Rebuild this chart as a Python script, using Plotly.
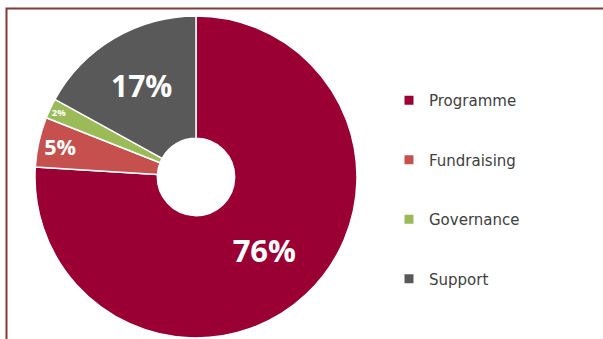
import plotly.graph_objects as go

categories = ["Programme", "Fundraising", "Governance", "Support"]
values = [76, 5, 2, 17]
colors = ["#9A0033", "#C6504E", "#9BBB59", "#595959"]
label_sizes = [31, 24, 15, 30]

fig = go.Figure()

fig.add_trace(go.Pie(
    labels=categories,
    values=values,
    sort=False,
    direction="clockwise",
    rotation=0,
    hole=0.24,
    marker=dict(colors=colors, line=dict(color="white", width=1.5)),
    textinfo="percent",
    texttemplate="%{percent:.0%}",
    textposition="inside",
    insidetextorientation="horizontal",
    textfont=dict(family="Open Sans", color="white", size=label_sizes, weight="bold"),
    domain=dict(x=[35 / 603, 357 / 603], y=[1 / 339, 323 / 339]),
    showlegend=False,
    hoverinfo="label+percent",
))

# legend entries (one per category)
for name, col in zip(categories, colors):
    fig.add_trace(go.Scatter(
        x=[None], y=[None], mode="markers", name=name,
        legendgroup=name,
        marker=dict(symbol="square", size=9, color=col),
    ))

fig.update_layout(
    width=603, height=339,
    margin=dict(l=0, r=0, t=0, b=0),
    paper_bgcolor="white",
    plot_bgcolor="white",
    xaxis=dict(visible=False),
    yaxis=dict(visible=False),
    legend=dict(
        x=389 / 603, y=1 - 84 / 339, xanchor="left", yanchor="top",
        font=dict(family="DejaVu Sans", size=15, color="#404040"),
        tracegroupgap=37,
        itemwidth=30,
        bgcolor="rgba(0,0,0,0)",
    ),
    shapes=[dict(
        type="rect", xref="paper", yref="paper",
        x0=6.5 / 603, x1=1.05, y0=-0.05, y1=1 - 8.5 / 339,
        line=dict(color="#7F3A3A", width=2),
        fillcolor="rgba(0,0,0,0)",
    )],
)

fig.write_html("out.html")
